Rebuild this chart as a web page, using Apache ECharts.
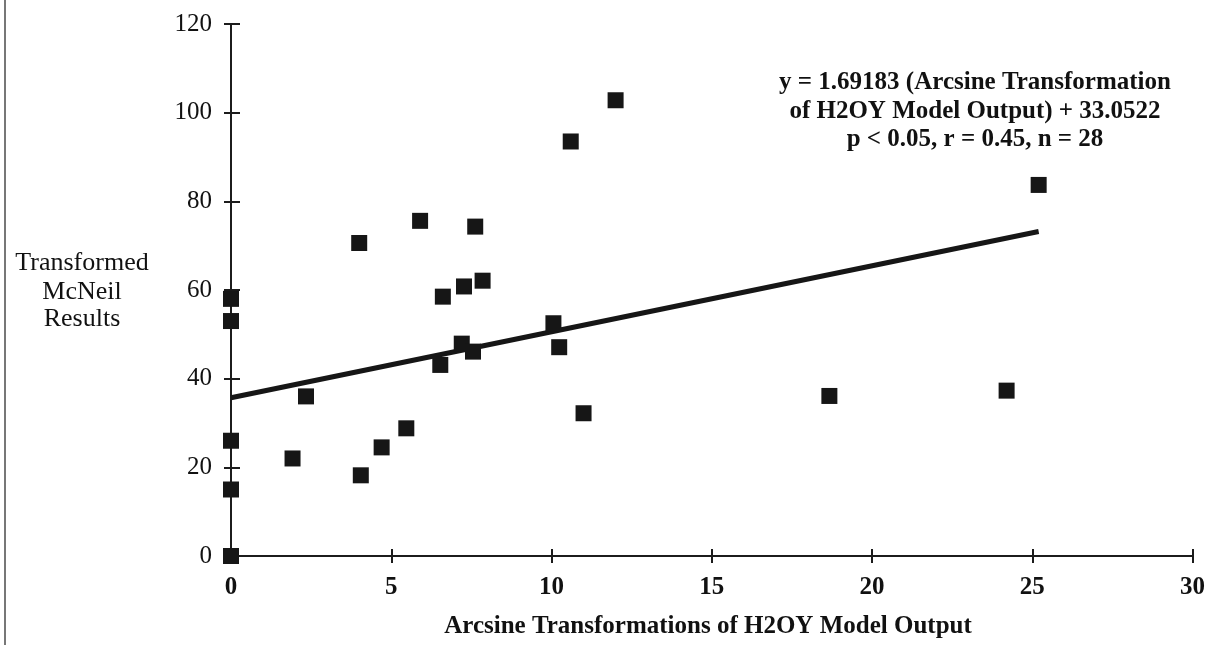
<!DOCTYPE html>
<html>
<head>
<meta charset="utf-8">
<script src="https://cdn.jsdelivr.net/npm/echarts@6/dist/echarts.min.js"></script>
<style>
html,body{margin:0;padding:0;background:#fff;}
#chart{width:1208px;height:645px;}
</style>
</head>
<body>
<div id="chart"></div>
<script>
// Observed points (Arcsine transformation of H2OY model output vs transformed McNeil results)
const xValues = [0, 0, 0, 0, 0, 1.92, 2.34, 4.0, 4.05, 4.7, 5.47, 5.9, 6.53, 6.61, 7.2, 7.27, 7.55, 7.62, 7.85, 10.06, 10.24, 10.6, 11.0, 12.0, 18.67, 24.2, 25.2];
const yValues = [58, 53, 26, 15, 0, 22.0, 36.0, 70.6, 18.2, 24.5, 28.8, 75.6, 43.1, 58.5, 47.9, 60.8, 46.1, 74.3, 62.1, 52.5, 47.1, 93.5, 32.2, 102.8, 36.1, 37.3, 83.7];
// Fitted line as drawn
const fitX = [0, 25.2];
const fitY = [35.7, 73.2];
// Axis ticks
const xTicks = [0, 5, 10, 15, 20, 25, 30];
const yTicks = [0, 20, 40, 60, 80, 100, 120];
const annotationLines = [
  'y = 1.69183 (Arcsine Transformation',
  'of H2OY Model Output) + 33.0522',
  'p < 0.05, r = 0.45, n = 28'
];
const yTitleLines = ['Transformed', 'McNeil', 'Results'];
const xTitle = 'Arcsine Transformations of H2OY Model Output';

const FONT = '"Liberation Serif", "DejaVu Serif", serif';
const INK = '#1c1c1c';

const chart = echarts.init(document.getElementById('chart'), null, {renderer: 'canvas'});

const baseX = {
  type: 'value', min: xTicks[0], max: xTicks[xTicks.length - 1], interval: 5,
  position: 'bottom', splitLine: {show: false},
  axisLine: {show: true, onZero: false, lineStyle: {color: INK, width: 2}}
};
const baseY = {
  type: 'value', min: yTicks[0], max: yTicks[yTicks.length - 1], interval: 20,
  position: 'left', splitLine: {show: false},
  axisLine: {show: true, onZero: false, lineStyle: {color: INK, width: 2}}
};

const option = {
  backgroundColor: '#ffffff',
  animation: false,
  grid: {left: 231, right: 15, top: 24, bottom: 89, containLabel: false},
  xAxis: [
    Object.assign({}, baseX, {
      axisTick: {show: true, inside: false, length: 7, lineStyle: {color: INK, width: 2}},
      axisLabel: {show: true, margin: 19, fontFamily: FONT, fontSize: 25, fontWeight: 'bold', color: '#111'}
    }),
    Object.assign({}, baseX, {
      axisTick: {show: true, inside: true, length: 7, lineStyle: {color: INK, width: 2}},
      axisLabel: {show: false}
    })
  ],
  yAxis: [
    Object.assign({}, baseY, {
      axisTick: {show: true, inside: false, length: 7, lineStyle: {color: INK, width: 2}},
      axisLabel: {show: true, margin: 19, fontFamily: FONT, fontSize: 25, color: '#111'}
    }),
    Object.assign({}, baseY, {
      axisTick: {show: true, inside: true, length: 9, lineStyle: {color: INK, width: 2}},
      axisLabel: {show: false}
    })
  ],
  series: [
    {
      type: 'line',
      xAxisIndex: 0, yAxisIndex: 0,
      data: fitX.map((x, i) => [x, fitY[i]]),
      showSymbol: false, symbol: 'none',
      lineStyle: {color: '#161616', width: 5},
      z: 2
    },
    {
      type: 'scatter',
      xAxisIndex: 0, yAxisIndex: 0,
      data: xValues.map((x, i) => [x, yValues[i]]),
      symbol: 'rect', symbolSize: 16,
      itemStyle: {color: '#161616', opacity: 1},
      z: 3
    }
  ],
  graphic: [
    {
      type: 'line', shape: {x1: 5, y1: 0, x2: 5, y2: 645},
      style: {stroke: '#777', lineWidth: 2}
    },
    ...yTitleLines.map((t, i) => ({
      type: 'text', x: 82, y: [263, 292, 319][i],
      style: {text: t, font: '26px ' + FONT, fill: '#111', textAlign: 'center', textVerticalAlign: 'middle'}
    })),
    ...annotationLines.map((t, i) => ({
      type: 'text', x: 975, y: [83, 112, 140][i],
      style: {text: t, font: 'bold 25px ' + FONT, fill: '#111', textAlign: 'center', textVerticalAlign: 'middle'}
    })),
    {
      type: 'text', x: 708, y: 627,
      style: {text: xTitle, font: 'bold 25px ' + FONT, fill: '#111', textAlign: 'center', textVerticalAlign: 'middle'}
    }
  ]
};
chart.setOption(option);
</script>
</body>
</html>
